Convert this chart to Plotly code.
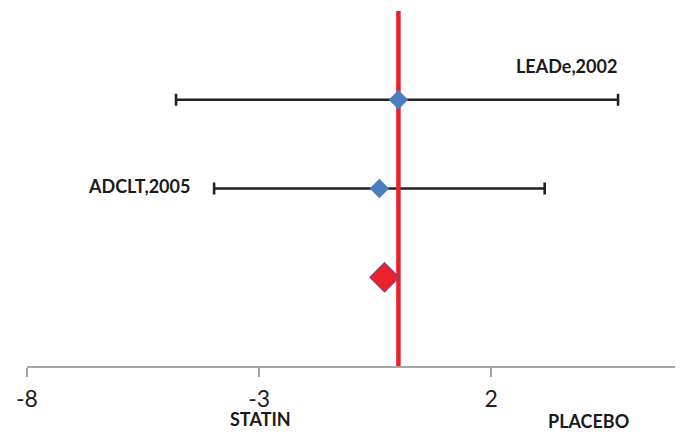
import plotly.graph_objects as go

# Data
studies = ["LEADe,2002", "ADCLT,2005"]
study_row = [3, 2]
effect = [0.0, -0.41]
ci_low = [-4.79, -3.97]
ci_high = [4.73, 3.15]
study_label_x = [3.63, -5.59]
study_label_y = [3.38, 2.03]
pooled_label = "Pooled"
pooled_row = [1]
pooled_effect = [-0.30]
null_x = [0, 0]
null_y = [0, 4.02]
side_labels = ["STATIN", "PLACEBO"]
side_label_x = [-2.98, 4.1]
side_label_y = [-0.148, -0.155]
tick_vals = [-8, -3, 2]

err_plus = [h - e for h, e in zip(ci_high, effect)]
err_minus = [e - l for e, l in zip(effect, ci_low)]

FONT = "Lato"

fig = go.Figure()

# error bars (drawn beneath the null line)
fig.add_trace(go.Scatter(
    x=effect, y=study_row, mode="markers",
    marker=dict(size=2, color="rgba(0,0,0,0)"),
    error_x=dict(type="data", symmetric=False, array=err_plus, arrayminus=err_minus,
                 color="#222222", thickness=2.6, width=6),
    hoverinfo="skip", showlegend=False, cliponaxis=False,
))

# null line
fig.add_trace(go.Scatter(
    x=null_x, y=null_y, mode="lines",
    line=dict(color="#e8212b", width=4.5),
    hoverinfo="skip", showlegend=False, cliponaxis=False,
))

# study diamonds
fig.add_trace(go.Scatter(
    x=effect, y=study_row, mode="markers",
    marker=dict(symbol="diamond", size=15, color="#4a7ebf", line=dict(width=0)),
    showlegend=False, name="Studies",
))

# pooled diamond
fig.add_trace(go.Scatter(
    x=pooled_effect, y=pooled_row, mode="markers",
    marker=dict(symbol="diamond", size=23, color="#e8212b",
                line=dict(width=1, color="#6a4a90")),
    showlegend=False, name=pooled_label,
))

# study labels
for lab, lx, ly in zip(studies, study_label_x, study_label_y):
    fig.add_annotation(x=lx, y=ly, text="<b>" + lab + "</b>", showarrow=False,
                       font=dict(family=FONT, size=18, color="#1a1a1a"))

# side labels
for lab, lx, ly in zip(side_labels, side_label_x, side_label_y):
    fig.add_annotation(x=lx, xref="x", y=ly, yref="paper", yanchor="middle",
                       text="<b>" + lab + "</b>", showarrow=False,
                       font=dict(family=FONT, size=18, color="#1a1a1a"))

# page body has an 8px offset; margins compensate for it
fig.update_layout(
    width=683, height=432,
    margin=dict(l=19, r=14, t=3, b=74, autoexpand=False),
    paper_bgcolor="white", plot_bgcolor="white",
    xaxis=dict(range=[-8, 6], tickmode="array", tickvals=tick_vals,
               ticktext=[str(v) for v in tick_vals],
               showline=True, linecolor="#a6a6a6", linewidth=1.5,
               ticks="outside", ticklen=9, tickwidth=1.5, tickcolor="#a6a6a6",
               ticklabelstandoff=3,
               showgrid=False, zeroline=False, automargin=False,
               tickfont=dict(family=FONT, size=23, color="#222222")),
    yaxis=dict(range=[0, 4], visible=False, showgrid=False, zeroline=False),
)

fig.write_html("out.html")
